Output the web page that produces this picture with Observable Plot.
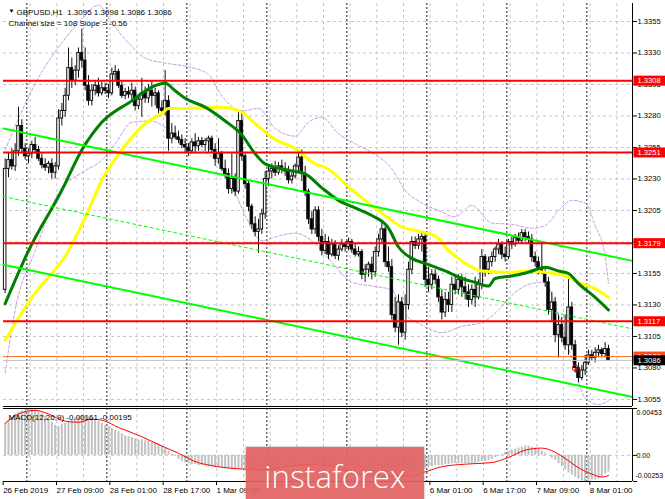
<!DOCTYPE html>
<html><head><meta charset="utf-8">
<script src="https://cdn.jsdelivr.net/npm/d3@7"></script>
<script src="https://cdn.jsdelivr.net/npm/@observablehq/plot@0.6"></script>
<style>
html,body{margin:0;padding:0;background:#fff;overflow:hidden;}
#chart{position:relative;width:665px;height:499px;overflow:hidden;}
#chart svg{position:absolute;left:0;overflow:visible;}
#wm{position:absolute;left:246px;top:447px;width:178px;height:58px;background:rgba(226,98,98,0.93);
  color:#fff;font-family:"Open Sans",sans-serif;font-weight:300;font-size:31px;display:flex;align-items:center;justify-content:center;
  box-shadow:0 0 2px rgba(120,120,120,0.8);letter-spacing:0.3px;}
</style></head><body>
<div id="chart"><div id="wm">instaforex</div></div>
<script>
// ---------- data ----------
const open = [
1.3142,1.3238,1.3245,1.3240,1.3252,1.3272,1.3254,1.3248,1.3250,1.3257,
1.3253,1.3246,1.3241,1.3239,1.3242,1.3235,1.3240,1.3278,1.3284,1.3296,
1.3318,1.3308,1.3316,1.3330,1.3324,1.3304,1.3292,1.3300,1.3304,1.3298,
1.3302,1.3300,1.3298,1.3313,1.3315,1.3304,1.3296,1.3299,1.3297,1.3300,
1.3288,1.3293,1.3298,1.3294,1.3300,1.3296,1.3298,1.3286,1.3284,1.3292,
1.3262,1.3266,1.3263,1.3261,1.3257,1.3255,1.3252,1.3259,1.3256,1.3260,
1.3257,1.3260,1.3262,1.3253,1.3246,1.3250,1.3238,1.3234,1.3222,1.3230,
1.3220,1.3276,1.3248,1.3226,1.3208,1.3194,1.3188,1.3190,1.3202,1.3230,
1.3236,1.3238,1.3235,1.3240,1.3238,1.3236,1.3229,1.3232,1.3240,1.3247,
1.3234,1.3220,1.3198,1.3190,1.3205,1.3184,1.3173,1.3180,1.3170,1.3178,
1.3169,1.3174,1.3178,1.3176,1.3180,1.3174,1.3170,1.3172,1.3154,1.3158,
1.3162,1.3156,1.3172,1.3182,1.3190,1.3164,1.3160,1.3122,1.3112,1.3132,
1.3108,1.3130,1.3158,1.3180,1.3177,1.3182,1.3184,1.3150,1.3146,1.3154,
1.3150,1.3136,1.3124,1.3134,1.3130,1.3146,1.3142,1.3150,1.3144,1.3140,
1.3134,1.3142,1.3136,1.3146,1.3168,1.3158,1.3164,1.3168,1.3174,1.3178,
1.3170,1.3168,1.3180,1.3178,1.3183,1.3181,1.3187,1.3184,1.3182,1.3168,
1.3164,1.3158,1.3156,1.3148,1.3126,1.3132,1.3106,1.3114,1.3104,1.3098,
1.3128,1.3098,1.3080,1.3072,1.3078,1.3084,1.3090,1.3088,1.3092,1.3094,
1.3091,1.3095];
const high = [
1.3246,1.3251,1.3254,1.3258,1.3287,1.3277,1.3258,1.3254,1.3260,1.3263,
1.3256,1.3250,1.3246,1.3244,1.3246,1.3243,1.3285,1.3290,1.3302,1.3334,
1.3326,1.3320,1.3334,1.3349,1.3334,1.3312,1.3305,1.3308,1.3310,1.3307,
1.3306,1.3305,1.3318,1.3320,1.3317,1.3307,1.3302,1.3303,1.3306,1.3303,
1.3297,1.3310,1.3303,1.3305,1.3308,1.3302,1.3300,1.3292,1.3316,1.3296,
1.3274,1.3272,1.3268,1.3265,1.3262,1.3258,1.3262,1.3266,1.3263,1.3263,
1.3262,1.3264,1.3264,1.3258,1.3262,1.3252,1.3245,1.3238,1.3250,1.3234,
1.3284,1.3284,1.3250,1.3228,1.3210,1.3200,1.3198,1.3206,1.3236,1.3240,
1.3242,1.3244,1.3243,1.3245,1.3243,1.3240,1.3236,1.3242,1.3250,1.3253,
1.3240,1.3222,1.3204,1.3208,1.3208,1.3190,1.3186,1.3184,1.3182,1.3181,
1.3177,1.3182,1.3180,1.3183,1.3182,1.3178,1.3176,1.3174,1.3162,1.3164,
1.3168,1.3176,1.3186,1.3197,1.3192,1.3176,1.3166,1.3136,1.3138,1.3136,
1.3138,1.3164,1.3184,1.3184,1.3186,1.3188,1.3186,1.3160,1.3158,1.3158,
1.3153,1.3142,1.3140,1.3140,1.3152,1.3152,1.3154,1.3154,1.3152,1.3146,
1.3146,1.3152,1.3150,1.3174,1.3170,1.3168,1.3172,1.3176,1.3182,1.3180,
1.3176,1.3182,1.3184,1.3186,1.3187,1.3190,1.3190,1.3188,1.3186,1.3172,
1.3168,1.3180,1.3160,1.3152,1.3140,1.3136,1.3122,1.3120,1.3122,1.3151,
1.3132,1.3102,1.3084,1.3082,1.3090,1.3094,1.3094,1.3096,1.3098,1.3096,
1.3100,1.3098];
const low = [
1.3139,1.3231,1.3237,1.3236,1.3248,1.3250,1.3245,1.3242,1.3246,1.3250,
1.3244,1.3238,1.3236,1.3234,1.3230,1.3230,1.3237,1.3272,1.3279,1.3292,
1.3302,1.3304,1.3310,1.3318,1.3300,1.3288,1.3288,1.3296,1.3295,1.3296,
1.3297,1.3294,1.3296,1.3308,1.3302,1.3294,1.3293,1.3294,1.3291,1.3284,
1.3285,1.3279,1.3290,1.3290,1.3287,1.3288,1.3282,1.3280,1.3280,1.3252,
1.3258,1.3261,1.3258,1.3254,1.3250,1.3248,1.3250,1.3250,1.3252,1.3255,
1.3252,1.3251,1.3250,1.3240,1.3242,1.3236,1.3230,1.3218,1.3218,1.3216,
1.3218,1.3244,1.3222,1.3204,1.3190,1.3184,1.3171,1.3186,1.3198,1.3224,
1.3230,1.3232,1.3233,1.3234,1.3232,1.3226,1.3226,1.3230,1.3234,1.3228,
1.3216,1.3194,1.3186,1.3186,1.3180,1.3169,1.3170,1.3166,1.3168,1.3166,
1.3165,1.3172,1.3172,1.3173,1.3171,1.3168,1.3168,1.3150,1.3148,1.3152,
1.3150,1.3152,1.3168,1.3178,1.3160,1.3156,1.3118,1.3108,1.3098,1.3104,
1.3102,1.3126,1.3154,1.3174,1.3174,1.3172,1.3144,1.3140,1.3142,1.3146,
1.3132,1.3118,1.3120,1.3124,1.3124,1.3138,1.3138,1.3136,1.3134,1.3128,
1.3130,1.3128,1.3134,1.3142,1.3152,1.3154,1.3160,1.3164,1.3170,1.3166,
1.3164,1.3166,1.3174,1.3176,1.3178,1.3178,1.3180,1.3178,1.3164,1.3160,
1.3154,1.3154,1.3144,1.3122,1.3116,1.3100,1.3088,1.3100,1.3094,1.3090,
1.3094,1.3076,1.3068,1.3070,1.3074,1.3082,1.3086,1.3084,1.3088,1.3088,
1.3088,1.3086];
const close = [
1.3238,1.3245,1.3240,1.3252,1.3272,1.3254,1.3248,1.3250,1.3257,1.3253,
1.3246,1.3241,1.3239,1.3242,1.3235,1.3240,1.3278,1.3284,1.3296,1.3318,
1.3308,1.3316,1.3330,1.3324,1.3304,1.3292,1.3300,1.3304,1.3298,1.3302,
1.3300,1.3298,1.3313,1.3315,1.3304,1.3296,1.3299,1.3297,1.3300,1.3288,
1.3293,1.3298,1.3294,1.3300,1.3296,1.3298,1.3286,1.3284,1.3292,1.3262,
1.3266,1.3263,1.3261,1.3257,1.3255,1.3252,1.3259,1.3256,1.3260,1.3257,
1.3260,1.3262,1.3253,1.3246,1.3250,1.3238,1.3234,1.3222,1.3230,1.3220,
1.3276,1.3248,1.3226,1.3208,1.3194,1.3188,1.3190,1.3202,1.3230,1.3236,
1.3238,1.3235,1.3240,1.3238,1.3236,1.3229,1.3232,1.3240,1.3247,1.3234,
1.3220,1.3198,1.3190,1.3205,1.3184,1.3173,1.3180,1.3170,1.3178,1.3169,
1.3174,1.3178,1.3176,1.3180,1.3174,1.3170,1.3172,1.3154,1.3158,1.3162,
1.3156,1.3172,1.3182,1.3190,1.3164,1.3160,1.3122,1.3112,1.3132,1.3108,
1.3130,1.3158,1.3180,1.3177,1.3182,1.3184,1.3150,1.3146,1.3154,1.3150,
1.3136,1.3124,1.3134,1.3130,1.3146,1.3142,1.3150,1.3144,1.3140,1.3134,
1.3142,1.3136,1.3146,1.3168,1.3158,1.3164,1.3168,1.3174,1.3178,1.3170,
1.3168,1.3180,1.3178,1.3183,1.3181,1.3187,1.3184,1.3182,1.3168,1.3164,
1.3158,1.3156,1.3148,1.3126,1.3132,1.3106,1.3114,1.3104,1.3098,1.3128,
1.3098,1.3080,1.3072,1.3078,1.3084,1.3090,1.3088,1.3092,1.3094,1.3091,
1.3095,1.3086];

// moving averages (sampled by bar)
const greenBars = [0,7,17,23,29,38,44,48,51,54,60,66,71,75,78,85,90,95,100,105,110,115,118,122,126,132,137,141,145,147,152,157,162,166,169,172,177,181];
const greenVals = [1.3131,1.3173,1.3221,1.3253,1.3275,1.3292,1.3303,1.3306,1.3300,1.3294,1.3287,1.3276,1.3265,1.3250,1.3242,1.3237,1.3234,1.3223,1.3213,1.3207,1.3201,1.3191,1.3176,1.3167,1.3163,1.3157,1.3151,1.3148,1.3145,1.3151,1.3153,1.3156,1.3160,1.3157,1.3155,1.3147,1.3136,1.3126];
const yellowBars = [0,8,19,25,29,32,37,43,47,49,55,65,71,75,80,87,93,97,102,108,113,119,125,130,132,137,143,152,157,162,169,172,177,181];
const yellowVals = [1.3102,1.3136,1.3173,1.3205,1.3229,1.3242,1.3260,1.3276,1.3282,1.3286,1.3286,1.3287,1.3283,1.3274,1.3263,1.3254,1.3242,1.3238,1.3226,1.3213,1.3203,1.3192,1.3188,1.3183,1.3176,1.3165,1.3157,1.3156,1.3157,1.3156,1.3152,1.3148,1.3143,1.3136];
// bands (sampled by bar)
const upperBars = [0,5,11,17,23,28,32,37,42,48,55,61,65,71,76,81,87,91,95,100,105,110,116,120,125,130,135,140,146,152,158,162,166,170,174,177,180,181];
const upperVals = [1.3253,1.3284,1.3315,1.3338,1.3357,1.3368,1.3354,1.3338,1.3326,1.3322,1.3319,1.3313,1.3296,1.3284,1.3286,1.3270,1.3264,1.3275,1.3279,1.3266,1.3258,1.3251,1.3238,1.3221,1.3211,1.3205,1.3200,1.3209,1.3195,1.3194,1.3191,1.3193,1.3205,1.3213,1.3211,1.3193,1.3169,1.3147];
const lowerBars = [0,3,9,16,23,29,33,38,44,48,53,59,63,68,72,77,81,87,92,98,104,110,116,119,125,131,137,143,148,153,158,162,165,168,171,174,178,181];
const lowerVals = [1.3076,1.3126,1.3173,1.3219,1.3235,1.3245,1.3258,1.3275,1.3276,1.3271,1.3261,1.3253,1.3245,1.3225,1.3201,1.3181,1.3184,1.3187,1.3181,1.3164,1.3148,1.3145,1.3142,1.3126,1.3114,1.3108,1.3113,1.3116,1.3126,1.3140,1.3147,1.3148,1.3130,1.3106,1.3078,1.3056,1.3051,1.3054];
// regression channel
const channelBars = [-0.5, 188.2];
const channelUpper = [1.3270, 1.3165];
const channelMiddle = [1.3216, 1.3111];
const channelLower = [1.3162, 1.3057];
// levels
const redLevels = [1.3308, 1.3251, 1.3179, 1.3117];
const orangeLevel = 1.3089;
const bidLevel = 1.3086;
const markerBar = 171, markerPrice = 1.3080;
// MACD
const macdHist = [
0.0031,0.0034,0.0037,0.0040,0.0042,0.0043,0.0044,0.0045,0.0045,0.0044,
0.0042,0.0040,0.0038,0.0035,0.0032,0.0029,0.0028,0.0030,0.0031,0.0033,
0.0034,0.0036,0.0037,0.0038,0.0038,0.0037,0.0036,0.0034,0.0033,0.0031,
0.0029,0.0028,0.0026,0.0024,0.0023,0.0021,0.0019,0.0018,0.0017,0.0016,
0.0015,0.0015,0.0014,0.0014,0.0013,0.0012,0.0011,0.0009,0.0007,0.0004,
0.0001,-0.0001,-0.0004,-0.0006,-0.0007,-0.0008,-0.0009,-0.0009,-0.0010,-0.0010,
-0.0010,-0.0011,-0.0011,-0.0012,-0.0012,-0.0012,-0.0013,-0.0013,-0.0014,-0.0014,
-0.0013,-0.0013,-0.0013,-0.0014,-0.0014,-0.0015,-0.0015,-0.0015,-0.0014,-0.0013,
-0.0013,-0.0012,-0.0012,-0.0012,-0.0011,-0.0010,-0.0009,-0.0009,-0.0008,-0.0008,
-0.0008,-0.0008,-0.0009,-0.0009,-0.0009,-0.0010,-0.0011,-0.0011,-0.0012,-0.0013,
-0.0014,-0.0015,-0.0016,-0.0018,-0.0019,-0.0019,-0.0019,-0.0020,-0.0020,-0.0020,
-0.0019,-0.0018,-0.0017,-0.0017,-0.0018,-0.0019,-0.0021,-0.0022,-0.0022,-0.0022,
-0.0021,-0.0019,-0.0017,-0.0016,-0.0015,-0.0014,-0.0013,-0.0012,-0.0011,-0.0010,
-0.0010,-0.0010,-0.0009,-0.0009,-0.0008,-0.0008,-0.0008,-0.0008,-0.0008,-0.0008,
-0.0008,-0.0008,-0.0007,-0.0006,-0.0006,-0.0005,-0.0004,-0.0002,-0.0001,0.0001,
0.0003,0.0004,0.0005,0.0006,0.0007,0.0008,0.0009,0.0009,0.0008,0.0007,
0.0006,0.0004,0.0002,0.0000,-0.0003,-0.0005,-0.0008,-0.0011,-0.0014,-0.0017,
-0.0019,-0.0021,-0.0023,-0.0025,-0.00253,-0.0025,-0.0024,-0.0024,-0.0023,-0.0021,
-0.0018,-0.00161];
const signalBars = [0,4,9,13,18,22,26,29,34,41,47,52,57,62,70,78,86,92,97,102,108,115,121,126,131,136,141,146,151,156,161,165,168,172,176,179,181];
const signalVals = [0.0031,0.0040,0.00435,0.0040,0.0033,0.0032,0.0035,0.0034,0.0027,0.0018,0.0009,0.0002,-0.0006,-0.0010,-0.0013,-0.0014,-0.0010,-0.0009,-0.0010,-0.0014,-0.0019,-0.0020,-0.0020,-0.0016,-0.0011,-0.0009,-0.0008,-0.0007,-0.0002,0.0005,0.0007,0.0003,-0.0003,-0.0012,-0.0018,-0.0021,-0.00195];
// axes
const priceTicks = [1.3055,1.3080,1.3105,1.3130,1.3155,1.3180,1.3205,1.3230,1.3255,1.3280,1.3305,1.3330,1.3355];
const macdTicks = [0.00453, 0, -0.00253];
const macdTickText = ["0.00453", "0.00", "-0.00253"];
const timeBars = [0,16,32,48,64,128,144,160,176];
const timeLabels = ["26 Feb 2019","27 Feb 09:00","28 Feb 01:00","28 Feb 17:00","1 Mar 09:00","6 Mar 01:00","6 Mar 17:00","7 Mar 09:00","8 Mar 01:00"];
const gridBars = [7.5,15.5,23.5,31.5,39.5,47.5,55.5,63.5,71.5,79.5,87.5,95.5,103.5,111.5,119.5,127.5,135.5,143.5,151.5,159.5,167.5,175.5,183.5];
const dayBars = [6.5,30.5,54.5,78.5,102.5,126.5,150.5,174.5];
const headerText = "GBPUSD,H1  1.3095 1.3098 1.3086 1.3086";
const channelText = "Channel size = 108 Slope = -0.56";
const macdText = "MACD(12,26,9) -0.00161 -0.00195";

// ---------- build ----------
const xDomain = [-0.5, 188.2];
const yDomain = [1.30494, 1.33693];
const mDomain = [-0.00253, 0.00453];
const font = {fontFamily: "'Liberation Sans', Arial, sans-serif", fontSize: "8px", background: "transparent", color: "#000"};

const candles = close.map((c, i) => ({i, open: open[i], high: high[i], low: low[i], close: c}));
const pts = (bars, vals) => bars.map((b, k) => ({i: b, v: vals[k]}));
const lineGreen = pts(greenBars, greenVals);
const lineYellow = pts(yellowBars, yellowVals);
const bandUp = pts(upperBars, upperVals);
const bandLo = pts(lowerBars, lowerVals);
const chU = pts(channelBars, channelUpper);
const chM = pts(channelBars, channelMiddle);
const chL = pts(channelBars, channelLower);
const labelRows = [
  ...redLevels.map(p => ({p, t: p.toFixed(4), c: "#ff0000"})),
  {p: orangeLevel, t: orangeLevel.toFixed(4), c: "#ff4a1a"},
  {p: bidLevel, t: bidLevel.toFixed(4), c: "#000000"}
];
const labelColor = {};
labelRows.forEach(r => labelColor[r.t] = r.c);

const main = Plot.plot({
  width: 665, height: 407,
  marginTop: 3, marginBottom: 1, marginLeft: 3, marginRight: 33,
  style: font,
  x: {domain: xDomain, axis: null, label: null},
  y: {domain: yDomain, axis: null, label: null},
  marks: [
    Plot.ruleY(priceTicks, {stroke: "#c6c6c6", strokeDasharray: "3,3"}),
    Plot.ruleX(gridBars, {stroke: "#c6c6c6", strokeDasharray: "3,3"}),
    Plot.ruleX(dayBars, {stroke: "#202020", strokeDasharray: "2,2"}),
    Plot.line(bandUp, {x: "i", y: "v", stroke: "#c49be6", strokeWidth: 1, strokeDasharray: "3,2", curve: "monotone-x", clip: true}),
    Plot.line(bandLo, {x: "i", y: "v", stroke: "#c49be6", strokeWidth: 1, strokeDasharray: "3,2", curve: "monotone-x", clip: true}),
    Plot.ruleX(candles, {x: "i", y1: "low", y2: "high", stroke: "#111", strokeWidth: 1}),
    Plot.rect(candles, {x1: d => d.i - 0.38, x2: d => d.i + 0.38, y1: "open", y2: "close",
      fill: d => d.close >= d.open ? "#ffffff" : "#000000", stroke: "#111", strokeWidth: 1}),
    Plot.line(lineYellow, {x: "i", y: "v", stroke: "#ffff00", strokeWidth: 3, curve: "monotone-x"}),
    Plot.line(lineGreen, {x: "i", y: "v", stroke: "#008000", strokeWidth: 3, curve: "monotone-x"}),
    Plot.line(chM, {x: "i", y: "v", stroke: "#00ff00", strokeWidth: 1, strokeDasharray: "3,3"}),
    Plot.line(chU, {x: "i", y: "v", stroke: "#00ff00", strokeWidth: 2}),
    Plot.line(chL, {x: "i", y: "v", stroke: "#00ff00", strokeWidth: 2}),
    Plot.ruleY(redLevels, {stroke: "#ff0000", strokeWidth: 2}),
    Plot.ruleY([orangeLevel], {stroke: "#ff6a1a", strokeWidth: 1}),
    Plot.ruleY([bidLevel], {stroke: "#c0c0c0", strokeWidth: 1}),
    Plot.dot([{i: markerBar, v: markerPrice}], {x: "i", y: "v", r: 3, stroke: "#ff0000", fill: "none", strokeWidth: 1}),
    Plot.axisY({anchor: "right", label: null, ticks: priceTicks, tickFormat: d3.format(".4f"), tickSize: 4, tickPadding: 1, fontSize: 7.6}),
    Plot.ruleX([xDomain[1]], {stroke: "#000"}),
    Plot.ruleY([yDomain[0]], {stroke: "#000"}),
    Plot.text(labelRows, {y: "p", text: "t", frameAnchor: "right", dx: 5, textAnchor: "start", fill: "#ffffff", fontSize: 7.6}),
    Plot.text(["\u25BC"], {frameAnchor: "top-left", dx: 5, dy: 5.5, textAnchor: "start", fontSize: 6}),
    Plot.text([headerText], {frameAnchor: "top-left", dx: 13, dy: 6, textAnchor: "start", fontSize: 8}),
    Plot.text([channelText], {frameAnchor: "top-left", dx: 5, dy: 17, textAnchor: "start", fontSize: 8})
  ]
});
main.style.top = "0px";

const hist = macdHist.map((v, i) => ({i, v}));
const sig = pts(signalBars, signalVals);
const macdAxis = macdTicks.map((v, k) => ({v, t: macdTickText[k]}));
const macd = Plot.plot({
  width: 665, height: 92,
  marginTop: 1, marginBottom: 18, marginLeft: 3, marginRight: 33,
  style: font,
  x: {domain: xDomain, axis: null, label: null},
  y: {domain: mDomain, axis: null, label: null},
  marks: [
    Plot.ruleY([0], {stroke: "#c6c6c6", strokeDasharray: "3,3"}),
    Plot.ruleX(gridBars, {stroke: "#c6c6c6", strokeDasharray: "3,3"}),
    Plot.ruleX(dayBars, {stroke: "#202020", strokeDasharray: "2,2"}),
    Plot.ruleX(hist, {x: "i", y1: 0, y2: "v", stroke: "#c0c0c0", strokeWidth: 2}),
    Plot.line(sig, {x: "i", y: "v", stroke: "#ff0000", strokeWidth: 1, curve: "monotone-x"}),
    Plot.ruleX([xDomain[1]], {stroke: "#000"}),
    Plot.ruleY([mDomain[0]], {stroke: "#000"}),
    Plot.ruleY([mDomain[1]], {stroke: "#000"}),
    Plot.axisY({anchor: "right", label: null, ticks: macdTicks, tickFormat: () => "", tickSize: 4}),
    Plot.text(macdAxis.slice(0, 1), {y: "v", text: "t", frameAnchor: "right", dx: 4, dy: 4, textAnchor: "start", fontSize: 7}),
    Plot.text(macdAxis.slice(1, 2), {y: "v", text: "t", frameAnchor: "right", dx: 4, textAnchor: "start", fontSize: 7}),
    Plot.text(macdAxis.slice(2, 3), {y: "v", text: "t", frameAnchor: "right", dx: 3, dy: -6, textAnchor: "start", fontSize: 7}),
    Plot.axisX({anchor: "bottom", label: null, ticks: timeBars, tickFormat: d => timeLabels[timeBars.indexOf(d)], tickSize: 4, tickPadding: 2, textAnchor: "start", dx: -2, fontSize: 8}),
    Plot.text([macdText], {frameAnchor: "top-left", dx: 5, dy: 6, textAnchor: "start", fontSize: 8})
  ]
});
macd.style.top = "407px";

const holder = document.getElementById("chart");
holder.insertBefore(macd, holder.firstChild);
holder.insertBefore(main, holder.firstChild);

// boxes behind the right-hand price labels
d3.select(main).selectAll("text").each(function() {
  const key = this.textContent;
  if (!(key in labelColor) || this.getAttribute("fill") !== "#ffffff" && this.parentNode.getAttribute("fill") !== "#ffffff") return;
  const bb = this.getBBox();
  const r = d3.select(this.parentNode).insert("rect", () => this)
    .attr("x", bb.x - 4).attr("y", bb.y - 0.5)
    .attr("width", 40).attr("height", bb.height + 1)
    .attr("fill", labelColor[key]);
  const tr = this.getAttribute("transform");
  if (tr) r.attr("transform", tr);
});
</script>
</body></html>
